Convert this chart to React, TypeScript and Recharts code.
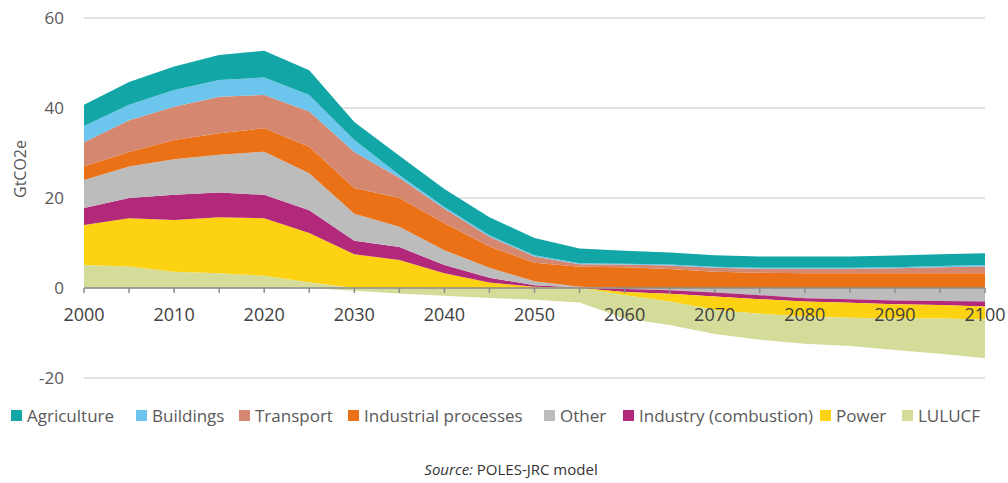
import React from 'react';
import { AreaChart, Area, XAxis, YAxis, CartesianGrid, ReferenceLine } from 'recharts';

// 5-year steps, GtCO2e
const years = [2000, 2005, 2010, 2015, 2020, 2025, 2030, 2035, 2040, 2045, 2050, 2055, 2060, 2065, 2070, 2075, 2080, 2085, 2090, 2095, 2100];

const agriculture = [4.7, 5.1, 5.2, 5.6, 5.9, 5.5, 4.0, 4.3, 4.0, 4.0, 3.8, 3.3, 2.9, 2.7, 2.6, 2.5, 2.5, 2.5, 2.6, 2.6, 2.6];
const buildings = [3.6, 3.4, 3.7, 3.7, 3.9, 3.7, 2.7, 0.6, 0.4, 0.3, 0.3, 0.2, 0.2, 0.2, 0.2, 0.2, 0.2, 0.2, 0.2, 0.3, 0.3];
const transport = [5.4, 7.1, 7.4, 8.1, 7.4, 7.8, 8.0, 4.5, 3.2, 2.2, 1.4, 0.6, 0.6, 0.8, 0.9, 0.9, 1.0, 1.0, 1.1, 1.3, 1.5];
const industrialProcesses = [3.0, 3.2, 4.3, 4.8, 5.2, 5.9, 5.7, 6.4, 6.0, 4.7, 4.1, 4.4, 4.6, 4.2, 3.6, 3.4, 3.3, 3.3, 3.3, 3.3, 3.3];
const other = [6.2, 7.0, 7.9, 8.4, 9.6, 8.2, 6.0, 4.5, 3.3, 2.2, 0.9, 0.2, -0.2, -0.5, -1.0, -1.6, -2.3, -2.5, -2.8, -2.9, -3.0];
const industryCombustion = [3.8, 4.5, 5.6, 5.5, 5.2, 5.1, 3.0, 2.9, 1.8, 1.1, 0.3, 0.05, -0.7, -0.8, -0.9, -0.9, -0.7, -0.8, -0.8, -0.9, -1.1];
const power = [8.9, 10.7, 11.5, 12.4, 12.8, 10.9, 7.5, 6.2, 3.3, 1.2, 0.3, 0.05, -0.7, -1.7, -3.0, -3.2, -3.4, -3.3, -3.2, -3.0, -2.9];
const lulucf = [5.1, 4.8, 3.6, 3.3, 2.7, 1.3, -0.6, -1.2, -1.7, -2.2, -2.6, -3.2, -5.2, -5.2, -5.3, -5.8, -6.0, -6.3, -7.0, -7.8, -8.6];

const xTicks = years;
const xLabels = [2000, 2010, 2020, 2030, 2040, 2050, 2060, 2070, 2080, 2090, 2100];
const yTicks = [-20, 0, 20, 40, 60];

const sectors = [
  { key: 'agriculture', name: 'Agriculture', color: '#13a6a6', values: agriculture },
  { key: 'buildings', name: 'Buildings', color: '#6cc5ec', values: buildings },
  { key: 'transport', name: 'Transport', color: '#d6876f', values: transport },
  { key: 'industrialProcesses', name: 'Industrial processes', color: '#eb7116', values: industrialProcesses },
  { key: 'other', name: 'Other', color: '#bcbcbc', values: other },
  { key: 'industryCombustion', name: 'Industry (combustion)', color: '#b2287b', values: industryCombustion },
  { key: 'power', name: 'Power', color: '#fcd213', values: power },
  { key: 'lulucf', name: 'LULUCF', color: '#d5dc99', values: lulucf },
];

const bySector = (key: string) => sectors.find(s => s.key === key)!;

// stacking order, bottom -> top above zero, and zero -> down below it
const posOrder = ['lulucf', 'power', 'industryCombustion', 'other', 'industrialProcesses', 'transport', 'buildings', 'agriculture'];
const negOrder = ['other', 'industryCombustion', 'power', 'lulucf'];

const data = years.map((year, i) => {
  const row: Record<string, number> = { year };
  sectors.forEach(s => {
    row[s.key + 'Pos'] = Math.max(s.values[i], 0);
    row[s.key + 'Neg'] = Math.min(s.values[i], 0);
  });
  return row;
});

const FONT = '"Open Sans", sans-serif';
const CHART_W = 1008;
const CHART_H = 400;
const PLOT_TOP = 18;
const PLOT_BOTTOM = 378;
const Y_MIN = -20;
const Y_MAX = 60;
const ZERO_Y = PLOT_TOP + ((PLOT_BOTTOM - PLOT_TOP) * Y_MAX) / (Y_MAX - Y_MIN);

// left edge of each legend entry (swatch), in page px
const legendLeft = [11, 136, 239, 348, 544, 623, 820, 902];

const XTick = (props: any) => {
  const { x, payload } = props;
  const showLabel = xLabels.includes(payload.value);
  return (
    <g>
      <line x1={x} x2={x} y1={ZERO_Y} y2={ZERO_Y + 5} stroke="#8c8c8c" strokeWidth={1.5} />
      {showLabel && (
        <text x={x} y={ZERO_Y + 33} textAnchor="middle" fill="#404040" fontSize={18} fontFamily={FONT}>
          {payload.value}
        </text>
      )}
    </g>
  );
};

export default function App() {
  return (
    <div style={{ position: 'absolute', left: 0, top: 0, width: CHART_W, height: 483, background: '#fff', fontFamily: FONT }}>
      <AreaChart width={CHART_W} height={CHART_H} data={data} margin={{ top: PLOT_TOP, right: 23, left: 0, bottom: 0 }}>
        <CartesianGrid vertical={false} stroke="#d9d9d9" strokeWidth={1.5} />
        <XAxis
          dataKey="year"
          type="number"
          domain={[2000, 2100]}
          ticks={xTicks}
          interval={0}
          height={CHART_H - PLOT_BOTTOM}
          axisLine={false}
          tickLine={false}
          tick={<XTick />}
        />
        <YAxis
          domain={[Y_MIN, Y_MAX]}
          ticks={yTicks}
          width={84}
          axisLine={false}
          tickLine={false}
          tickSize={10}
          tickMargin={10}
          tick={{ fill: '#595959', fontSize: 17, fontFamily: FONT }}
          label={{ value: 'GtCO2e', angle: -90, position: 'insideLeft', offset: 20, fill: '#595959', fontSize: 16, fontFamily: FONT }}
        />
        {negOrder.map(k => (
          <Area
            key={k + 'Neg'}
            dataKey={k + 'Neg'}
            stackId="neg"
            type="linear"
            fill={bySector(k).color}
            fillOpacity={1}
            stroke="none"
            isAnimationActive={false}
          />
        ))}
        {posOrder.map(k => (
          <Area
            key={k + 'Pos'}
            dataKey={k + 'Pos'}
            stackId="pos"
            type="linear"
            fill={bySector(k).color}
            fillOpacity={1}
            stroke="none"
            isAnimationActive={false}
          />
        ))}
        <ReferenceLine y={0} stroke="#8c8c8c" strokeWidth={1.5} />
      </AreaChart>
      {sectors.map((s, i) => (
        <div
          key={s.key}
          style={{ position: 'absolute', top: 404, left: legendLeft[i], display: 'flex', alignItems: 'center', fontSize: 17, color: '#595959', whiteSpace: 'nowrap' }}
        >
          <span style={{ display: 'inline-block', width: 11, height: 11, background: s.color, marginRight: 5 }} />
          <span>{s.name}</span>
        </div>
      ))}
      <div style={{ position: 'absolute', top: 459, left: 0, width: CHART_W, textAlign: 'center', paddingLeft: 14, boxSizing: 'border-box', fontSize: 15, color: '#333' }}>
        <i>Source:</i> POLES-JRC model
      </div>
    </div>
  );
}
